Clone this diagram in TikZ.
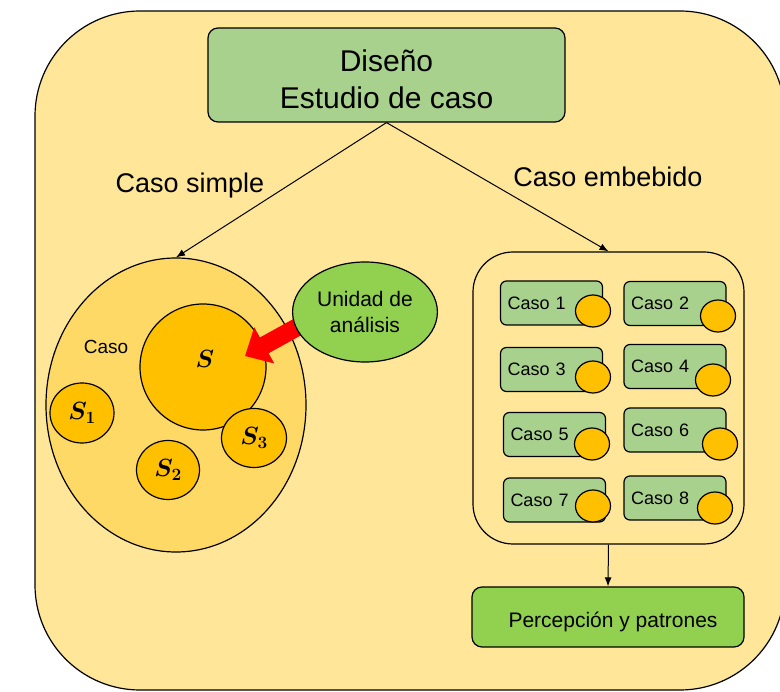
\documentclass[tikz,border=0pt]{standalone}
\usepackage{amsmath}
\usepackage{fontspec}
\setmainfont{Liberation Sans}
\usetikzlibrary{shapes.geometric,arrows.meta}
\definecolor{fondo}{HTML}{FFE699}
\definecolor{amarillo}{HTML}{FFD966}
\definecolor{naranja}{HTML}{FFC000}
\definecolor{verde}{HTML}{A9D18E}
\definecolor{verdeclaro}{HTML}{92D050}
\begin{document}
\begin{tikzpicture}[x=1pt, y=-1pt, line width=1.2pt]
    \tikzstyle{gbox}=[draw, rounded corners=10, fill=verde, align=center]
    \tikzstyle{sub}=[circle, draw, fill=naranja, inner sep=0pt]
    \tikzstyle{cbox}=[draw, rounded corners=6, fill=verde, minimum width=102, minimum height=44, text width=88, align=left, inner sep=7, font=\fontsize{18}{20}\selectfont]
    \tikzstyle{cdot}=[ellipse, draw, fill=naranja, minimum width=35, minimum height=32, inner sep=0pt]
    \tikzstyle{flecha}=[-{Latex[length=9pt,width=7pt]}, line width=1pt]
    \useasboundingbox (0,0) rectangle (780,692);
    \draw[fill=fondo, rounded corners=105] (35,11) rectangle (785,690);
    % diseno
    \node[gbox, minimum width=357, minimum height=94, font=\fontsize{30}{37}\selectfont] (dis) at (386.5,75) {};
    \node[align=center, font=\fontsize{30}{37}\selectfont] (distxt) at (386.5,79) {Diseño\\Estudio de caso};
    \node[font=\fontsize{27}{30}\selectfont] (lsimple) at (190,186) {Caso simple};
    \node[font=\fontsize{27}{30}\selectfont] (lemb) at (608,177) {Caso embebido};
    % caso simple
    \node[ellipse, draw, fill=amarillo, minimum width=260, minimum height=294] (caso) at (176,405) {};
    \node[font=\fontsize{19}{20}\selectfont] (lcaso) at (106,347) {Caso};
    \node[sub, minimum size=126] (s) at (203,367) {};
    \node[font=\fontsize{31}{31}\selectfont] (stxt) at (205,359) {$\boldsymbol{S}$};
    \node[sub, ellipse, minimum width=64, minimum height=60, font=\fontsize{23}{23}\selectfont] (s1) at (82,413) {$\boldsymbol{S_1}$};
    \node[sub, ellipse, minimum width=63, minimum height=59, font=\fontsize{23}{23}\selectfont] (s2) at (168,470) {$\boldsymbol{S_2}$};
    \node[sub, ellipse, minimum width=65, minimum height=59, font=\fontsize{23}{23}\selectfont] (s3) at (254,438) {$\boldsymbol{S_3}$};
    \coordinate (tail) at (312,319);
    \coordinate (tip) at (245,356);
    \draw[red, line width=18pt, -{Triangle[length=22pt,width=40pt]}] (tail) -- (tip);
    \node[ellipse, draw, fill=verdeclaro, minimum width=142, minimum height=100, align=center, font=\fontsize{21}{26}\selectfont] (uni) at (365,312) {Unidad de\\análisis};
    % caso embebido
    \node[draw, rounded corners=40, minimum width=271, minimum height=292] (emb) at (608.5,398) {};
    \foreach \n/\x/\y/\cx/\cy in {1/551.5/303/593/311, 2/675/303.5/718/316, 3/551.5/369.5/593/377, 4/675/366.5/713/380, 5/554.5/434.5/592/444, 6/675/430/720/444, 7/554.5/500/593/506, 8/675/498/715/508} {
        \node[cbox] (c\n) at (\x,\y) {Caso \n};
        \node[cdot] (d\n) at (\cx,\cy) {};
    }
    \node[gbox, fill=verdeclaro, minimum width=272, minimum height=60] (perc) at (608,617) {};
    \node[font=\fontsize{21}{24}\selectfont] (perctxt) at (613,622) {Percepción y patrones};
    % flechas
    \draw[flecha] (dis.south) -- (caso.north);
    \draw[flecha] (dis.south) -- (emb.north);
    \draw[flecha] (emb.south) -- (perc.north);
\end{tikzpicture}
\end{document}
